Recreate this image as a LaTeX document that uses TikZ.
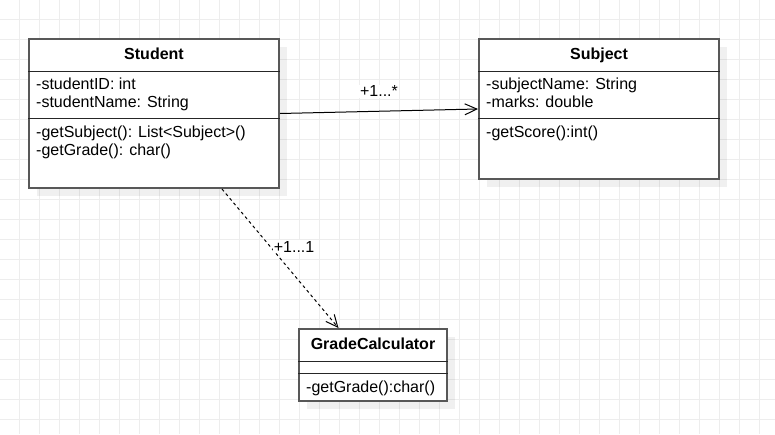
\documentclass[tikz,border=0pt]{standalone}
\usepackage{fontspec}
\setmainfont{Liberation Sans}
\usetikzlibrary{arrows.meta,shadows}
\definecolor{gridgray}{HTML}{EDEDED}
\definecolor{boxgray}{HTML}{585858}
\newcommand{\umlfont}{\fontsize{16}{18.5}\selectfont}

\begin{document}
\begin{tikzpicture}[x=1pt,y=-1pt,
    classbox/.style={draw=boxgray, line width=2pt, fill=white, inner sep=0pt,
        drop shadow={shadow xshift=8pt, shadow yshift=-8pt, fill=black, opacity=0.06}},
    title/.style={anchor=base, font=\umlfont\bfseries, inner sep=0pt},
    member/.style={anchor=base west, font=\umlfont, inner sep=0pt},
    divider/.style={line width=1pt, draw=black!85},
    gridline/.style={draw=gridgray, line width=1pt},
    assoc/.style={line width=1pt, -{Straight Barb[length=12pt, width=11pt]}},
    mult/.style={fill=white, font=\umlfont, inner sep=1pt}]
    %% background grid
    \useasboundingbox (0,0) rectangle (775,434);
    \fill[white] (0,0) rectangle (775,434);
    \foreach \gx in {19,39,...,759} \draw[gridline] (\gx,0) -- (\gx,434);
    \foreach \gy in {19,39,...,419} \draw[gridline] (0,\gy) -- (775,\gy);
    %% classes
    \node[classbox, minimum width=250pt, minimum height=149pt] (student) at (154,113.5) {};
    \node[classbox, minimum width=240pt, minimum height=140pt] (subject) at (599,109) {};
    \node[classbox, minimum width=148pt, minimum height=72pt] (grade) at (373,365) {};
    %% compartments
    \draw[divider] (student.west |- 0,71) -- (student.east |- 0,71);
    \draw[divider] (student.west |- 0,118) -- (student.east |- 0,118);
    \draw[divider] (subject.west |- 0,71) -- (subject.east |- 0,71);
    \draw[divider] (subject.west |- 0,118) -- (subject.east |- 0,118);
    \draw[divider] (grade.west |- 0,361) -- (grade.east |- 0,361);
    \draw[divider] (grade.west |- 0,373) -- (grade.east |- 0,373);
    %% Student
    \node[title] (studenttitle) at (154,59) {Student};
    \node[member] (sid) at (36,89) {-studentID: int};
    \node[member] (sname) at (36,107.5) {-studentName: String};
    \node[member] (sgetsubject) at (36,137) {-getSubject(): List<Subject>()};
    \node[member] (sgetgrade) at (36,155.5) {-getGrade(): char()};
    %% Subject
    \node[title] (subjecttitle) at (599,59) {Subject};
    \node[member] (subname) at (486,89) {-subjectName: String};
    \node[member] (submarks) at (486,107.5) {-marks: double};
    \node[member] (subscore) at (486,137) {-getScore():int()};
    %% GradeCalculator
    \node[title] (gradetitle) at (373,349.5) {GradeCalculator};
    \node[member] (ggetgrade) at (306,392) {-getGrade():char()};
    %% associations
    \draw[assoc] (student.east) -- node[mult, midway, above=13pt] (many) {+1...*} (subject.west);
    \draw[assoc, dash pattern=on 3pt off 3pt] (student.-48.5) -- node[mult, pos=0.415, anchor=west, xshift=2pt] (one) {+1...1} (grade.133.4);
\end{tikzpicture}
\end{document}
